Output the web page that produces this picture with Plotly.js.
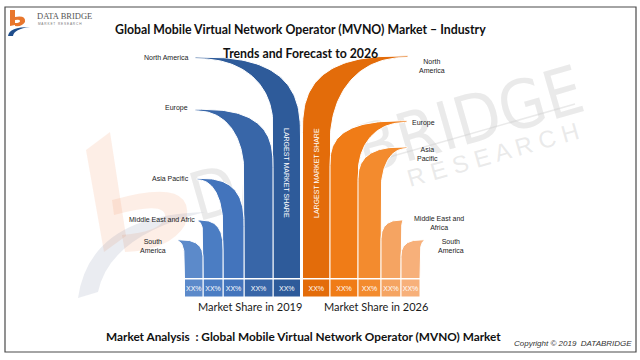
<!DOCTYPE html>
<html><head><meta charset="utf-8">
<script src="https://cdn.plot.ly/plotly-3.0.1.min.js"></script>
<style>html,body{margin:0;padding:0;background:#fff;}#chart{width:640px;height:360px;}</style>
</head><body><div id="chart"></div>
<script>
// ---------------- data ----------------
const regions = ['North America','Europe','Asia Pacific','Middle East and Africa','South America'];
const share2019 = [38.1, 29.1, 17.2, 10.0, 6.6];
const share2026 = [38.3, 27.1, 22.6, 10.0, 6.6];
const boxText2019 = ['XX%','XX%','XX%','XX%','XX%'];
const boxText2026 = ['XX%','XX%','XX%','XX%','XX%'];
const labels2019 = ['North America','Europe','Asia Pacific','Middle East and Afric','South<br>America'];
const labels2026 = ['North<br>America','Europe','Asia<br>Pacific','Middle East and<br>Africa','South<br>America'];
const groupTitles = ['Market Share in 2019','Market Share in 2026'];
const spineText = 'LARGEST MARKET SHARE';

// ---------------- styles / geometry ----------------
const colors2019 = ['#2E5B9A','#3866A8','#4374BC','#4B7DC3','#5C8ACA'];
const colors2026 = ['#E36C0A','#F07C17','#F38B2E','#F5A462','#F7B07A'];
const PX = 5.8;     // pixels per share unit
const BASE = 278;   // pixel row of the zero line
const geo2019 = {
  colL: [273, 244, 223, 203, 184.5],
  colR: [300.5, 273, 244, 223, 203],
  tipX: [195, 195, 197, 198, 178],
  dropOut: [80, 58, 48, 30, 20],
  dropIn: [70, 66, 50, 15, 20],
  lab: [[-5,0,'right'],[-5,-1,'right'],[-6,0,'right'],[-1,-1,'right'],[-25,6,'center']]
};
const geo2026 = {
  colL: [302.5, 330, 358, 381, 401],
  colR: [330, 358, 381, 401, 420],
  tipX: [408, 407, 407, 403, 424],
  dropOut: [77, 45, 35, 22, 18],
  dropIn: [90, 55, 45, 20, 16],
  lab: [[24,10,'center'],[3,2,'left'],[20,7,'center'],[36,3,'center'],[27,6,'center']]
};
function yv(py){ return (BASE - py) / PX; }

function ribbon(value, tipX, outerX, innerX, dOut, dIn){
  const yt = BASE - value * PX;
  const t = 1.6, N = 48, nIn = 2.3, nOut = 2.8;
  const xs = [innerX, innerX], ys = [BASE, yt + t + dIn];
  for (let k = N; k >= 0; k--) {
    const th = k / N * Math.PI / 2;
    const s = Math.pow(Math.sin(th), 2 / nIn), c = Math.pow(Math.cos(th), 2 / nIn);
    xs.push(tipX + (innerX - tipX) * s); ys.push(yt + t + dIn * (1 - c));
  }
  for (let k = 0; k <= N; k++) {
    const th = k / N * Math.PI / 2;
    const s = Math.pow(Math.sin(th), 2 / nOut), c = Math.pow(Math.cos(th), 2 / nOut);
    xs.push(tipX + (outerX - tipX) * s); ys.push(yt + dOut * (1 - c));
  }
  xs.push(outerX); ys.push(BASE);
  return { x: xs, y: ys.map(yv) };
}

const traces = [];
const annotations = [];
const LABEL_FONT = { family: 'Liberation Sans, Arial, sans-serif', size: 7, color: '#222' };

function addGroup(values, geo, colors, side, labels, boxTexts){
  for (let i = 0; i < values.length; i++) {
    const outerX = side === 'left' ? geo.colR[i] : geo.colL[i];
    const innerX = side === 'left' ? geo.colL[i] : geo.colR[i];
    const r = ribbon(values[i], geo.tipX[i], outerX, innerX, geo.dropOut[i], geo.dropIn[i]);
    traces.push({ type: 'scatter', mode: 'lines', x: r.x, y: r.y, fill: 'toself',
      fillcolor: colors[i], line: { color: '#ffffff', width: 1 }, hoverinfo: 'skip', name: regions[i] });
    const L = geo.lab[i];
    annotations.push({ xref: 'x', yref: 'y', x: geo.tipX[i] + L[0], y: values[i], yshift: -L[1],
      xanchor: L[2], yanchor: 'middle', text: labels[i], showarrow: false, font: LABEL_FONT, align: 'center' });
  }
  traces.push({ type: 'bar', x: geo.colL.map((l, i) => (l + geo.colR[i]) / 2),
    width: geo.colL.map((l, i) => geo.colR[i] - l), base: yv(297),
    y: geo.colL.map(() => (297 - 279) / PX),
    marker: { color: colors, line: { color: '#ffffff', width: 1 } },
    text: boxTexts, textposition: 'inside', insidetextanchor: 'middle', textangle: 0,
    constraintext: 'none', textfont: { color: '#ffffff', size: 7, family: 'Liberation Sans, Arial' },
    hoverinfo: 'skip' });
}
addGroup(share2019, geo2019, colors2019, 'left', labels2019, boxText2019);
addGroup(share2026, geo2026, colors2026, 'right', labels2026, boxText2026);

// text in the largest columns
annotations.push({ xref: 'x', yref: 'y', x: 287, y: yv(173), text: spineText, textangle: 90, showarrow: false,
  font: { family: 'Liberation Sans, Arial', size: 7, color: '#ffffff' } });
annotations.push({ xref: 'x', yref: 'y', x: 316, y: yv(173), text: spineText, textangle: -90, showarrow: false,
  font: { family: 'Liberation Sans, Arial', size: 7, color: '#ffffff' } });
// group titles
annotations.push({ xref: 'x', yref: 'y', x: 250, y: yv(306), text: groupTitles[0], showarrow: false,
  font: { family: 'Lato, sans-serif', size: 11, color: '#1a1a1a' } });
annotations.push({ xref: 'x', yref: 'y', x: 376, y: yv(306), text: groupTitles[1], showarrow: false,
  font: { family: 'Lato, sans-serif', size: 11, color: '#1a1a1a' } });
// titles
const TF = { family: 'Lato, sans-serif', size: 12.3, color: '#111', weight: 'bold' };
annotations.push({ xref: 'x', yref: 'y', x: 300, y: yv(29), text: 'Global Mobile Virtual Network Operator (MVNO) Market – Industry', showarrow: false, font: TF });
annotations.push({ xref: 'x', yref: 'y', x: 300, y: yv(53), text: 'Trends and Forecast to 2026', showarrow: false, font: TF });
annotations.push({ xref: 'x', yref: 'y', x: 303, y: yv(336), text: 'Market Analysis  : Global Mobile Virtual Network Operator (MVNO) Market', showarrow: false,
  font: { family: 'Lato, sans-serif', size: 11.8, color: '#111', weight: 'bold' } });
annotations.push({ xref: 'x', yref: 'y', x: 634, y: yv(343), xanchor: 'right', text: 'Copyright © 2019  DATABRIDGE', showarrow: false,
  font: { family: 'Liberation Sans, Arial', size: 8, color: '#333', style: 'italic' } });
// logo text
annotations.push({ xref: 'x', yref: 'y', x: 35, y: yv(16), xanchor: 'left', text: 'DATA BRIDGE', showarrow: false,
  font: { family: 'Liberation Serif, serif', size: 8.5, color: '#555' } });
annotations.push({ xref: 'x', yref: 'y', x: 36, y: yv(23.5), xanchor: 'left', text: 'M A R K E T   R E S E A R C H', showarrow: false,
  font: { family: 'Liberation Sans, Arial', size: 3.2, color: '#777' } });

function P(pts){ return 'M' + pts.map(p => p[0] + ',' + yv(p[1])).join(' L') + ' Z'; }
const WM = 'rgba(205,205,205,0.42)';
const shapes = [
  // frame
  { type: 'rect', xref: 'x', yref: 'y', x0: 5, x1: 636, y0: yv(7), y1: yv(352), line: { color: '#4a4a4a', width: 1.2 }, layer: 'above' },
  // watermark background logo
  { type: 'path', xref: 'x', yref: 'y', layer: 'below', path: P([[86,150],[110,132],[126,236],[104,252]]), fillcolor: 'rgba(244,150,100,0.16)', line: { width: 0 } },
  { type: 'path', xref: 'x', yref: 'y', layer: 'below', path: 'M 112,' + yv(200) + ' Q 200,' + yv(175) + ' 185,' + yv(225) + ' Q 170,' + yv(250) + ' 125,' + yv(252) + ' L 122,' + yv(235) + ' Q 160,' + yv(232) + ' 165,' + yv(218) + ' Q 168,' + yv(200) + ' 114,' + yv(215) + ' Z', fillcolor: 'rgba(244,150,100,0.16)', line: { width: 0 } },
  { type: 'path', xref: 'x', yref: 'y', layer: 'below', path: 'M 78,' + yv(298) + ' Q 90,' + yv(215) + ' 205,' + yv(212) + ' Q 110,' + yv(235) + ' 98,' + yv(292) + ' Z', fillcolor: 'rgba(90,110,150,0.13)', line: { width: 0 } },
  // watermark text
  { type: 'rect', xref: 'x', yref: 'y', x0: 215, x1: 555, y0: yv(183), y1: yv(95), layer: 'below', line: { width: 0 }, fillcolor: 'rgba(0,0,0,0)',
    label: { text: 'DATA BRIDGE', textangle: -16, textposition: 'middle center', font: { family: 'Liberation Sans Narrow, DejaVu Sans Condensed, Liberation Sans, Arial', size: 67, color: WM } } },
  { type: 'rect', xref: 'x', yref: 'y', x0: 400, x1: 585, y0: yv(185), y1: yv(120), layer: 'below', line: { width: 0 }, fillcolor: 'rgba(0,0,0,0)',
    label: { text: 'R E S E A R C H', textangle: -16, textposition: 'middle center', font: { family: 'Liberation Sans, Arial', size: 24, color: WM } } },
  { type: 'line', xref: 'x', yref: 'y', layer: 'below', x0: 330, y0: yv(174), x1: 575, y1: yv(104), line: { color: WM, width: 1.5 } },
  // small logo
  { type: 'path', xref: 'x', yref: 'y', path: P([[10,10],[15,10],[15,25],[10,26]]), fillcolor: '#E8762C', line: { width: 0 } },
  { type: 'path', xref: 'x', yref: 'y', path: 'M 15,' + yv(17) + ' Q 26,' + yv(15) + ' 25,' + yv(22) + ' Q 22,' + yv(27) + ' 15,' + yv(26) + ' L 15,' + yv(23) + ' Q 20,' + yv(23) + ' 20,' + yv(21) + ' Q 20,' + yv(19) + ' 15,' + yv(20) + ' Z', fillcolor: '#E8762C', line: { width: 0 } },
  { type: 'path', xref: 'x', yref: 'y', path: 'M 8,' + yv(36) + ' Q 9,' + yv(27) + ' 30,' + yv(27) + ' Q 14,' + yv(29) + ' 13,' + yv(36) + ' Z', fillcolor: '#1F4E8C', line: { width: 0 } }
];

const layout = {
  width: 640, height: 360, margin: { l: 0, r: 0, t: 0, b: 0 },
  paper_bgcolor: '#ffffff', plot_bgcolor: 'rgba(0,0,0,0)', showlegend: false,
  xaxis: { range: [0, 640], visible: false, fixedrange: true },
  yaxis: { range: [yv(360), yv(0)], visible: false, fixedrange: true },
  barmode: 'overlay', shapes: shapes, annotations: annotations
};
Plotly.newPlot('chart', traces, layout, { staticPlot: true, displayModeBar: false });
</script></body></html>
